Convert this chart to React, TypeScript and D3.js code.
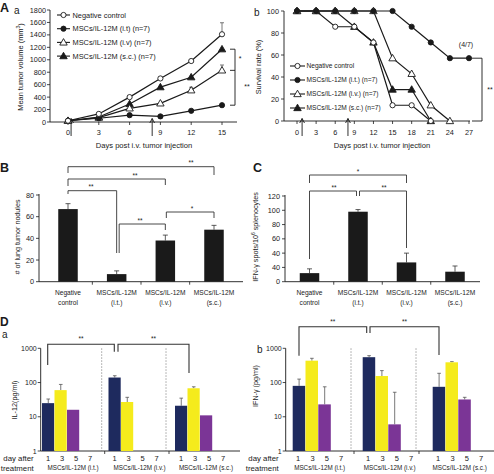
import React from "react";
import * as d3 from "d3";

const FONT = "'Liberation Sans', Arial, Helvetica, sans-serif";
const INK = "#1a1a1a";
const NAVY = "#1e2a5e";
const YELLOW = "#f5eb1c";
const PURPLE = "#7b3596";

// ---------- Panel A a: tumor volume ----------
const daysA = [0, 3, 6, 9, 12, 15];
const tumorNeg = [20, 130, 400, 700, 980, 1410];
const tumorIT = [20, 60, 110, 90, 180, 270];
const tumorIV = [20, 70, 220, 300, 510, 830];
const tumorSC = [20, 80, 290, 560, 720, 1170];
const tumorNegErr = [0, 0, 0, 0, 0, 185];
const tumorIVErr = [0, 0, 0, 0, 48, 86];
const tumorITErr = [0, 0, 0, 0, 0, 0];
const tumorSCErr = [0, 0, 0, 0, 0, 0];
const tumorTicks = [0, 200, 400, 600, 800, 1000, 1200, 1400, 1600, 1800];
const legendA = ["Negative control", "MSCs/IL-12M (i.t) (n=7)", "MSCs/IL-12M (i.v) (n=7)", "MSCs/IL-12M (s.c.) (n=7)"];
const arrowDaysA = [0.3, 8.2];

// ---------- Panel A b: survival ----------
const daysB = [0, 3, 6, 9, 12, 15, 18, 21, 24, 27];
const survNeg = [100, 100, 85.7, 85.7, 71.4, 14.3, 14.3, 0];
const survIT = [100, 100, 100, 100, 100, 100, 85.7, 71.4, 57.1, 57.1];
const survIV = [100, 100, 100, 100, 100, 57.1, 42.9, 14.3, 0];
const survSC = [100, 100, 100, 85.7, 71.4, 28.6, 28.6, 0];
const survTicks = [0, 20, 40, 60, 80, 100];
const legendB = ["Negative control", "MSCs/IL-12M (i.t.) (n=7)", "MSCs/IL-12M (i.v.) (n=7)", "MSCs/IL-12M (s.c.) (n=7)"];
const arrowDaysB = [0.8, 8];

// ---------- Panels B and C ----------
const barCats = ["Negative control", "MSCs/IL-12M (i.t.)", "MSCs/IL-12M (i.v.)", "MSCs/IL-12M (s.c.)"];
const barCatLine1 = ["Negative", "MSCs/IL-12M", "MSCs/IL-12M", "MSCs/IL-12M"];
const barCatLine2 = ["control", "(i.t.)", "(i.v.)", "(s.c.)"];
const nodules = [67, 7, 38, 48];
const nodulesErrTop = [72, 10, 43, 52];
const noduleTicks = [0, 20, 40, 60, 80];
const spots = [12, 98, 27, 14];
const spotsErrTop = [18, 101, 40, 22];
const spotTicks = [0, 20, 40, 60, 80, 100, 120];
const spotTickLabels = ["0", "40", "40", "60", "80", "100", "120"];

// ---------- Panel D ----------
const dayLabels = ["1", "3", "5", "7"];
const dGroups = ["MSCs/IL-12M (i.t.)", "MSCs/IL-12M (i.v.)", "MSCs/IL-12M (s.c.)"];
const logTicks = [1, 10, 100, 1000];
const il12Day1 = [25, 140, 21];
const il12Day3 = [60, 27, 68];
const il12Day5 = [16, 0, 11];
const il12Day7 = [0, 0, 0];
const il12Err1 = [33, 158, 35];
const il12Err3 = [88, 37, 75];
const il12Err5 = [0, 0, 0];
const ifnDay1 = [80, 550, 75];
const ifnDay3 = [435, 155, 390];
const ifnDay5 = [23, 6, 32];
const ifnDay7 = [0, 0, 0];
const ifnErr1 = [126, 610, 186];
const ifnErr3 = [510, 223, 407];
const ifnErr5 = [75, 52, 37];
const dayColors = [NAVY, YELLOW, PURPLE, "none"];

type MarkerProps = { x: number; y: number; shape: string; filled: boolean };
function Marker({ x, y, shape, filled }: MarkerProps) {
  const fill = filled ? INK : "#fff";
  if (shape === "circle") {
    return <circle cx={x} cy={y} r={2.6} fill={fill} stroke={INK} strokeWidth={0.9} />;
  }
  const p = d3.symbol().type(d3.symbolTriangle).size(24)() as string;
  return <path d={p} transform={`translate(${x},${y + 0.5})`} fill={fill} stroke={INK} strokeWidth={0.9} />;
}

function T(props: any) {
  const { x, y, size = 7.3, anchor = "start", weight = "normal", children, fill = INK, rotate } = props;
  if (rotate) {
    return (
      <text transform={`translate(${x},${y}) rotate(${rotate})`} fontSize={size} textAnchor={anchor}
        fontWeight={weight} fill={fill} fontFamily={FONT}>{children}</text>
    );
  }
  return (
    <text x={x} y={y} fontSize={size} textAnchor={anchor} fontWeight={weight} fill={fill} fontFamily={FONT}>
      {children}
    </text>
  );
}

function Arrow({ x, yTop, yBot }: { x: number; yTop: number; yBot: number }) {
  return (
    <path d={`M${x},${yBot} V${yTop} M${x - 2.4},${yTop + 4.5} L${x},${yTop} L${x + 2.4},${yTop + 4.5}`}
      fill="none" stroke={INK} strokeWidth={0.9} />
  );
}

function PanelAa() {
  const xA = d3.scaleLinear().domain([0, 15]).range([68, 222]);
  const yA = d3.scaleLinear().domain([0, 1800]).range([122, 10]);
  const series = [
    { v: tumorNeg, e: tumorNegErr, shape: "circle", filled: false },
    { v: tumorIT, e: tumorITErr, shape: "circle", filled: true },
    { v: tumorIV, e: tumorIVErr, shape: "triangle", filled: false },
    { v: tumorSC, e: tumorSCErr, shape: "triangle", filled: true },
  ];
  const line = d3.line<[number, number]>().x((d) => xA(d[0])).y((d) => yA(d[1]));
  const drawOrder = [3, 2, 1, 0];
  const x0 = 50;
  const y0 = yA(0);
  return (
    <g>
      <T x={0} y={12} size={12.5} weight="bold">A</T>
      <T x={14} y={14} size={10}>a</T>
      {/* axes */}
      <line x1={x0} x2={x0} y1={yA(1800)} y2={y0} stroke={INK} strokeWidth={0.9} />
      <line x1={x0} x2={237} y1={y0} y2={y0} stroke={INK} strokeWidth={0.9} />
      {tumorTicks.map((t) => (
        <g key={t}>
          <line x1={x0 - 3} x2={x0} y1={yA(t)} y2={yA(t)} stroke={INK} strokeWidth={0.8} />
          <T x={x0 - 4} y={yA(t) + 2.6} anchor="end">{t}</T>
        </g>
      ))}
      {daysA.map((d) => (
        <g key={d}>
          <line x1={xA(d)} x2={xA(d)} y1={y0} y2={y0 + 3} stroke={INK} strokeWidth={0.8} />
          <T x={xA(d)} y={135} anchor="middle">{d}</T>
        </g>
      ))}
      {arrowDaysA.map((d) => <Arrow key={d} x={xA(d)} yTop={118.5} yBot={136} />)}
      <T x={23} y={67} rotate={-90} anchor="middle" size={7.4}>
        Mean tumor volume (mm<tspan fontSize={5} dy={-3}>3</tspan><tspan dy={3}>)</tspan>
      </T>
      <T x={144} y={148} anchor="middle" size={7.6}>Days post i.v. tumor injection</T>
      {/* series */}
      {drawOrder.map((i) => {
        const s = series[i];
        const pts = daysA.map((d, k) => [d, s.v[k]] as [number, number]);
        return (
          <g key={i}>
            {s.e.map((e, k) => e > 0 ? (
              <path key={k} d={`M${xA(daysA[k])},${yA(s.v[k])} V${yA(s.v[k] + e)} M${xA(daysA[k]) - 2},${yA(s.v[k] + e)} H${xA(daysA[k]) + 2}`}
                stroke="#555" strokeWidth={0.8} fill="none" />
            ) : null)}
            <path d={line(pts) as string} fill="none" stroke={INK} strokeWidth={1.2} />
            {pts.map((p, k) => <Marker key={k} x={xA(p[0])} y={yA(p[1])} shape={s.shape} filled={s.filled} />)}
          </g>
        );
      })}
      {/* legend */}
      {legendA.map((name, i) => {
        const y = 15 + i * 13.7;
        return (
          <g key={name}>
            <line x1={57} x2={70} y1={y} y2={y} stroke={INK} strokeWidth={1.1} />
            <Marker x={63.5} y={y} shape={series[i].shape} filled={series[i].filled} />
            <T x={72.5} y={y + 2.6} size={7.4}>{name}</T>
          </g>
        );
      })}
      {/* significance bracket */}
      <path d={`M230,${yA(tumorSC[5])} H235 V${yA(tumorIT[5])} H230 M230,${yA(tumorIV[5])} H235`}
        fill="none" stroke={INK} strokeWidth={0.9} />
      <T x={240} y={61} size={7} anchor="middle">*</T>
      <T x={247} y={89} size={7} anchor="middle">**</T>
    </g>
  );
}

function PanelAb() {
  const xB = d3.scaleLinear().domain([0, 27]).range([297, 469]);
  const yB = d3.scaleLinear().domain([0, 100]).range([121, 11]);
  const series = [
    { v: survNeg, shape: "circle", filled: false },
    { v: survIT, shape: "circle", filled: true },
    { v: survIV, shape: "triangle", filled: false },
    { v: survSC, shape: "triangle", filled: true },
  ];
  const line = d3.line<[number, number]>().x((d) => xB(d[0])).y((d) => yB(d[1]));
  const x0 = 284;
  const y0 = yB(0);
  return (
    <g>
      <T x={254} y={16} size={10}>b</T>
      <line x1={x0} x2={x0} y1={yB(100)} y2={y0} stroke={INK} strokeWidth={0.9} />
      <line x1={x0} x2={470} y1={y0} y2={y0} stroke={INK} strokeWidth={0.9} />
      {survTicks.map((t) => (
        <g key={t}>
          <line x1={x0 - 3} x2={x0} y1={yB(t)} y2={yB(t)} stroke={INK} strokeWidth={0.8} />
          <T x={x0 - 5} y={yB(t) + 2.6} anchor="end">{t}</T>
        </g>
      ))}
      {daysB.map((d) => (
        <g key={d}>
          <line x1={xB(d)} x2={xB(d)} y1={y0} y2={y0 + 3} stroke={INK} strokeWidth={0.8} />
          <T x={xB(d)} y={135} anchor="middle">{d}</T>
        </g>
      ))}
      {arrowDaysB.map((d) => <Arrow key={d} x={xB(d)} yTop={118.5} yBot={136} />)}
      <T x={261} y={67} rotate={-90} anchor="middle" size={7.4}>Survival rate (%)</T>
      <T x={382} y={148} anchor="middle" size={7.6}>Days post i.v. tumor injection</T>
      {[3, 2, 0, 1].map((i) => {
        const s = series[i];
        const pts = s.v.map((v, k) => [daysB[k], v] as [number, number]);
        return (
          <g key={i}>
            <path d={line(pts) as string} fill="none" stroke={INK} strokeWidth={1.2} />
            {pts.map((p, k) => <Marker key={k} x={xB(p[0])} y={yB(p[1])} shape={s.shape} filled={s.filled} />)}
          </g>
        );
      })}
      {legendB.map((name, i) => {
        const y = 66 + i * 14;
        return (
          <g key={name}>
            <line x1={290} x2={305} y1={y} y2={y} stroke={INK} strokeWidth={1.1} />
            <Marker x={297.5} y={y} shape={series[i].shape} filled={series[i].filled} />
            <T x={306.5} y={y + 2.4} size={6.6}>{name}</T>
          </g>
        );
      })}
      <T x={466} y={47} size={7} anchor="middle">(4/7)</T>
      <path d={`M472,${yB(survIT[9])} H482 V${y0} H472`} fill="none" stroke={INK} strokeWidth={0.9} />
      <T x={490} y={92} size={7} anchor="middle">**</T>
    </g>
  );
}

function BarPanel(props: any) {
  const { xRange, yScale, ticks, tickLabels, values, errTop, axisX, axisEnd, letter, letterX, yTitle, yTitleX, brackets } = props;
  const x = d3.scalePoint<string>().domain(barCats).range(xRange);
  const bw = 19.5;
  const y0 = yScale(0);
  const step = x.step();
  return (
    <g>
      <T x={letterX} y={172} size={12.5} weight="bold">{letter}</T>
      <line x1={axisX} x2={axisX} y1={yScale(ticks[ticks.length - 1]) - 1} y2={y0} stroke={INK} strokeWidth={0.9} />
      <line x1={axisX} x2={axisEnd} y1={y0} y2={y0} stroke={INK} strokeWidth={0.9} />
      {ticks.map((t: number, i: number) => (
        <g key={i}>
          <line x1={axisX - 3} x2={axisX} y1={yScale(t)} y2={yScale(t)} stroke={INK} strokeWidth={0.8} />
          <T x={axisX - 5} y={yScale(t) + 2.6} anchor="end">{tickLabels[i]}</T>
        </g>
      ))}
      {barCats.slice(0, 3).map((c) => (
        <line key={c} x1={(x(c) as number) + step / 2} x2={(x(c) as number) + step / 2} y1={y0} y2={y0 + 3} stroke={INK} strokeWidth={0.8} />
      ))}
      {barCats.map((c, i) => {
        const cx = x(c) as number;
        return (
          <g key={c}>
            <path d={`M${cx},${yScale(values[i])} V${yScale(errTop[i])} M${cx - 2.5},${yScale(errTop[i])} H${cx + 2.5}`}
              stroke="#333" strokeWidth={0.8} fill="none" />
            <rect x={cx - bw / 2} y={yScale(values[i])} width={bw} height={y0 - yScale(values[i])} fill={INK} />
            <T x={cx} y={295} anchor="middle" size={6.6}>{barCatLine1[i]}</T>
            <T x={cx} y={304.5} anchor="middle" size={6.6}>{barCatLine2[i]}</T>
          </g>
        );
      })}
      <T x={yTitleX} y={237} rotate={-90} anchor="middle" size={7.2}>{yTitle}</T>
      {brackets.map((b: any, i: number) => (
        <g key={i}>
          <path d={`M${x(barCats[b.a])! + (b.da || 0)},${b.ya} V${b.y} H${x(barCats[b.b])! + (b.db || 0)} V${b.yb}`}
            fill="none" stroke="#333" strokeWidth={0.9} />
          <T x={b.sx} y={b.y - 1.5} size={6.5} anchor="middle">{b.star}</T>
        </g>
      ))}
    </g>
  );
}

function DPanel(props: any) {
  const { axisX, axisEnd, groupRange, slot, dayStep, dayOffset, seps, groupLabelOffset, days, errs, yTitle, yTitleX, yTitleY, sub, subX, brackets, showLetter } = props;
  const y = d3.scaleLog().domain([1, 1000]).range([451, 348.3]);
  const g = d3.scaleLinear().domain([0, 2]).range(groupRange);
  const y0 = y(1);
  return (
    <g>
      {showLetter && <T x={0} y={325.5} size={12} weight="bold">D</T>}
      <T x={subX} y={sub === "a" ? 338 : 353} size={10}>{sub}</T>
      <line x1={axisX} x2={axisX} y1={y(1000)} y2={y0} stroke={INK} strokeWidth={0.9} />
      <line x1={axisX} x2={axisEnd} y1={y0} y2={y0} stroke={INK} strokeWidth={0.9} />
      {logTicks.map((t) => (
        <g key={t}>
          <line x1={axisX - 3} x2={axisX} y1={y(t)} y2={y(t)} stroke={INK} strokeWidth={0.8} />
          <T x={axisX - 4} y={y(t) + 2.5} anchor="end" size={7}>{t}</T>
        </g>
      ))}
      {seps.map((sx: number) => (
        <g key={sx}>
          <line x1={sx} x2={sx} y1={y(1000)} y2={y0} stroke="#777" strokeWidth={0.7} strokeDasharray="1.5,1.5" />
          <line x1={sx + 3} x2={sx + 3} y1={y0} y2={y0 + 3} stroke={INK} strokeWidth={0.8} />
        </g>
      ))}
      {dGroups.map((name, gi) => (
        <g key={name}>
          {days.map((vals: number[], di: number) => {
            const v = vals[gi];
            if (!v) return null;
            const bx = g(gi) + di * slot;
            const e = errs[di] ? errs[di][gi] : 0;
            return (
              <g key={di}>
                {e > 0 && (
                  <path d={`M${bx + slot / 2},${y(v)} V${y(e)} M${bx + slot / 2 - 1.8},${y(e)} H${bx + slot / 2 + 1.8}`}
                    stroke="#555" strokeWidth={0.8} fill="none" />
                )}
                <rect x={bx} y={y(v)} width={slot - 0.3} height={y0 - y(v)} fill={dayColors[di]} />
              </g>
            );
          })}
          {dayLabels.map((dl, di) => (
            <T key={dl} x={g(gi) + dayOffset + di * dayStep} y={461} anchor="middle" size={7.5}>{dl}</T>
          ))}
          <T x={g(gi) + groupLabelOffset} y={470} anchor="middle" size={6.3}>{name}</T>
        </g>
      ))}
      <T x={axisX - 7} y={461} anchor="end" size={7.8}>day after</T>
      <T x={axisX - 7} y={471} anchor="end" size={7.8}>treatment</T>
      <T x={yTitleX} y={yTitleY} rotate={-90} anchor="middle" size={7.2}>{yTitle}</T>
      {brackets.map((b: any, i: number) => (
        <g key={i}>
          <path d={`M${b.x1},${b.y1} V${b.y} H${b.x2} V${b.y2}`} fill="none" stroke="#333" strokeWidth={1.1} />
          <T x={(b.x1 + b.x2) / 2} y={b.y - 3} size={6.5} anchor="middle">**</T>
        </g>
      ))}
    </g>
  );
}

export default function App() {
  const yNod = d3.scaleLinear().domain([0, 80]).range([281.7, 195]);
  const ySpot = d3.scaleLinear().domain([0, 120]).range([281.7, 196]);
  return (
    <svg width={494} height={474} viewBox="0 0 494 474"
      style={{ position: "absolute", left: 0, top: 0, background: "#fff" }}>
      <rect width={494} height={474} fill="#fff" />
      <PanelAa />
      <PanelAb />
      <BarPanel
        xRange={[68, 214]} yScale={yNod} ticks={noduleTicks} tickLabels={noduleTicks.map(String)}
        values={nodules} errTop={nodulesErrTop} axisX={39} axisEnd={243}
        letter="B" letterX={0} yTitle="# of lung tumor nodules" yTitleX={20}
        brackets={[
          { a: 0, b: 3, y: 166.7, ya: 173, yb: 175, star: "**", sx: 191 },
          { a: 0, b: 2, y: 179, ya: 186, yb: 185, star: "**", sx: 135 },
          { a: 0, b: 1, y: 190.7, ya: 194, yb: 253, star: "**", sx: 91 },
          { a: 1, b: 2, da: 2.5, y: 224, ya: 253, yb: 230, star: "**", sx: 140 },
          { a: 2, b: 3, db: 0, da: 1, y: 212, ya: 218, yb: 218, star: "*", sx: 192 },
        ]}
      />
      <BarPanel
        xRange={[309.5, 455]} yScale={ySpot} ticks={spotTicks} tickLabels={spotTickLabels}
        values={spots} errTop={spotsErrTop} axisX={285} axisEnd={480}
        letter="C" letterX={253} yTitle={<>IFN-γ spots/10<tspan fontSize={5} dy={-3}>6</tspan><tspan dy={3}> splenocytes</tspan></>}
        yTitleX={258}
        brackets={[
          { a: 0, b: 2, y: 175, ya: 183, yb: 183, star: "*", sx: 358 },
          { a: 0, b: 1, da: 0, db: -1.5, y: 191, ya: 259, yb: 196, star: "**", sx: 334 },
          { a: 1, b: 2, da: 1.5, y: 191, ya: 196, yb: 248, star: "**", sx: 384 },
        ]}
      />
      <DPanel
        showLetter sub="a" subX={2} axisX={40.7} axisEnd={240} groupRange={[42, 175]} slot={12.5}
        dayStep={14} dayOffset={6} seps={[101.7, 166]} groupLabelOffset={31}
        days={[il12Day1, il12Day3, il12Day5, il12Day7]} errs={[il12Err1, il12Err3, il12Err5]}
        yTitle="IL-12(pg/ml)" yTitleX={17} yTitleY={400}
        brackets={[
          { x1: 47.7, y1: 365, x2: 114.3, y2: 351.7, y: 344.3 },
          { x1: 118, y1: 351.7, x2: 189, y2: 373, y: 344.3 },
        ]}
      />
      <DPanel
        sub="b" subX={257} axisX={285.7} axisEnd={494} groupRange={[292.7, 432.7]} slot={12.8}
        dayStep={14.3} dayOffset={5.5} seps={[351, 416]} groupLabelOffset={27}
        days={[ifnDay1, ifnDay3, ifnDay5, ifnDay7]} errs={[ifnErr1, ifnErr3, ifnErr5]}
        yTitle="IFN-γ (pg/ml)" yTitleX={258} yTitleY={386}
        brackets={[
          { x1: 299, y1: 355.7, x2: 366.7, y2: 333, y: 326.7 },
          { x1: 370, y1: 333, x2: 439, y2: 355, y: 326.7 },
        ]}
      />
    </svg>
  );
}
